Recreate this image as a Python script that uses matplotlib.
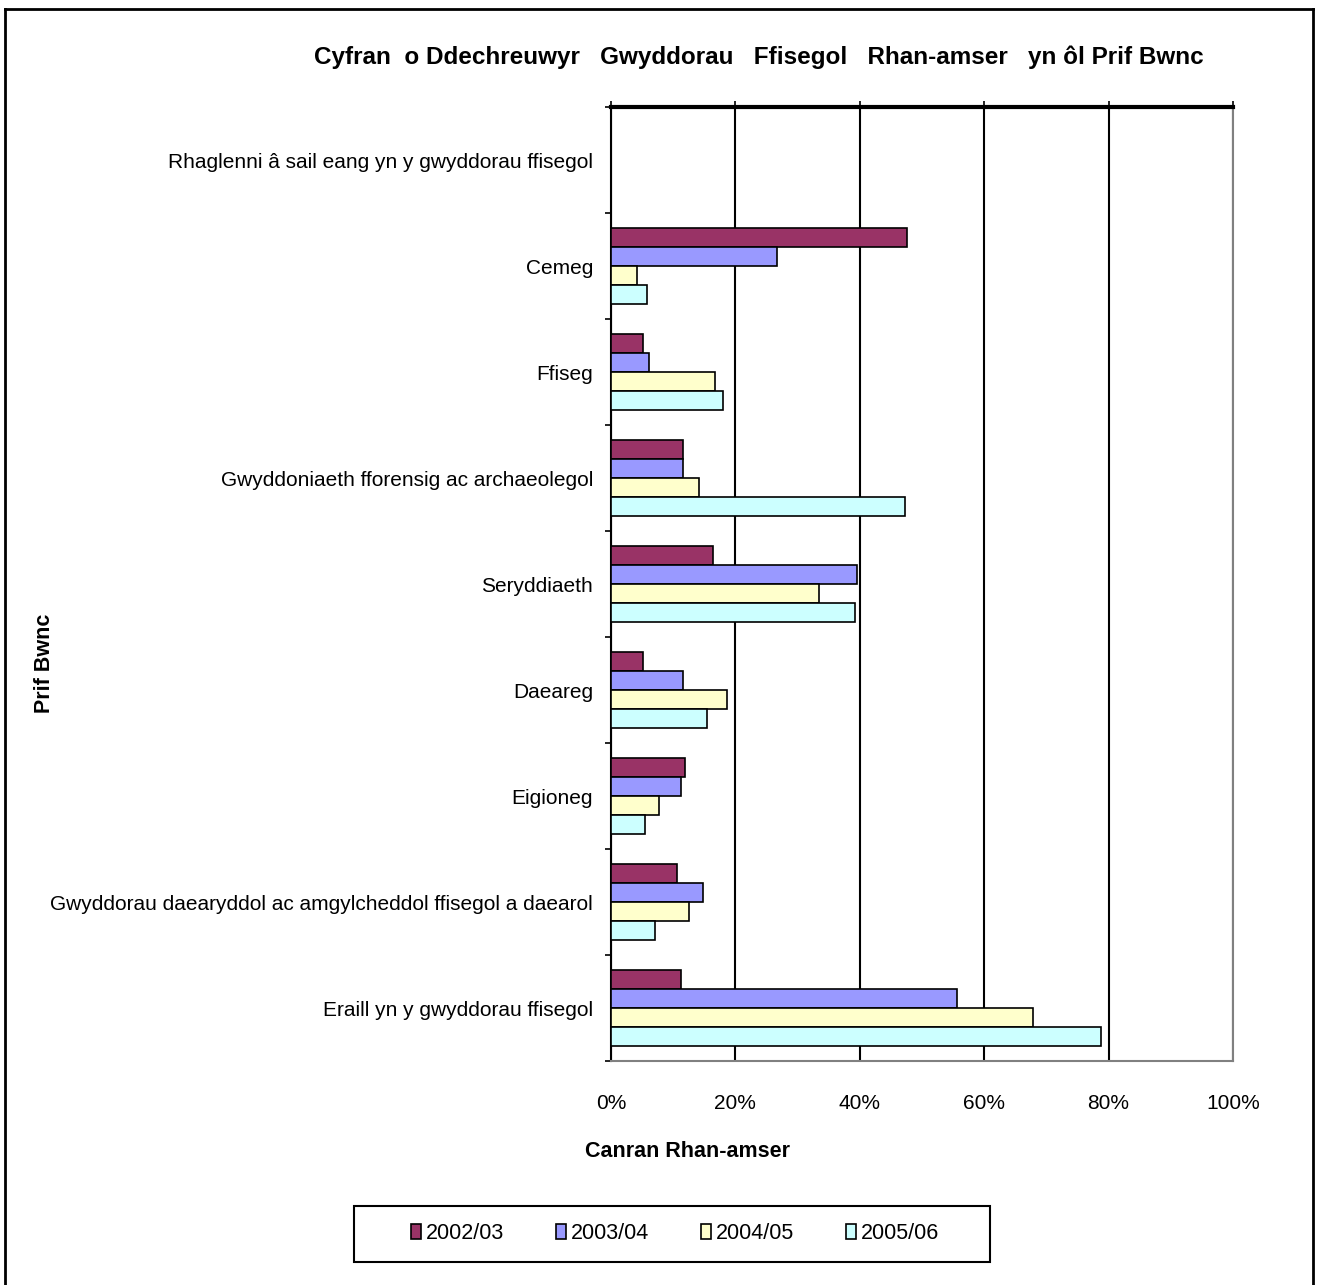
import numpy as np
import matplotlib.pyplot as plt
from matplotlib.lines import Line2D
from matplotlib.patches import Rectangle

plt.rcParams['font.family'] = ['Liberation Sans', 'DejaVu Sans']

# data (percent of part-time starters)
categories = ['Rhaglenni â sail eang yn y gwyddorau ffisegol', 'Cemeg', 'Ffiseg',
              'Gwyddoniaeth fforensig ac archaeolegol', 'Seryddiaeth', 'Daeareg',
              'Eigioneg', 'Gwyddorau daearyddol ac amgylcheddol ffisegol a daearol',
              'Eraill yn y gwyddorau ffisegol']
years = ['2002/03', '2003/04', '2004/05', '2005/06']
v_0203 = [0, 47.6, 5.1, 11.6, 16.4, 5.1, 11.9, 10.6, 11.3]
v_0304 = [0, 26.7, 6.1, 11.6, 39.5, 11.6, 11.3, 14.8, 55.6]
v_0405 = [0, 4.2, 16.7, 14.1, 33.4, 18.6, 7.7, 12.5, 67.8]
v_0506 = [0, 5.8, 18.0, 47.3, 39.2, 15.4, 5.5, 7.1, 78.8]
colors = ['#993366', '#9999FF', '#FFFFCC', '#CCFFFF']

fig = plt.figure(figsize=(13.18, 12.85), dpi=100)
ax = fig.add_axes([0.4636, 0.1743, 0.4719, 0.7424])

y = np.arange(len(categories))
h = 0.18
series = [v_0203, v_0304, v_0405, v_0506]
for i, (vals, lab, c) in enumerate(zip(series, years, colors)):
    ax.barh(y + (i - 1.5) * h, vals, height=h, color=c, edgecolor='black',
            linewidth=1.2, label=lab, zorder=3)

ax.set_xlim(0, 100)
ax.set_ylim(len(categories) - 0.5, -0.5)
ax.set_xticks(np.arange(0, 101, 20))
ax.set_xticklabels([f'{t}%' for t in range(0, 101, 20)], fontsize=15)
ax.tick_params(axis='x', top=True, bottom=False, labeltop=False, labelbottom=True,
               direction='out', length=4, width=1.2, pad=20)
ax.set_yticks(y)
ax.set_yticklabels(categories, fontsize=15)
ax.set_yticks(np.arange(-0.5, len(categories), 1), minor=True)
ax.tick_params(axis='y', which='major', length=0, pad=13)
ax.tick_params(axis='y', which='minor', length=4, width=1.2, direction='out')

ax.grid(axis='x', color='black', linewidth=1.5, zorder=1)
ax.spines['top'].set_linewidth(3)
ax.spines['left'].set_linewidth(1.5)
ax.spines['right'].set_color('#808080')
ax.spines['bottom'].set_color('#808080')
ax.spines['right'].set_linewidth(1.5)
ax.spines['bottom'].set_linewidth(1.5)

fig.text(0.5755, 0.9556, 'Cyfran  o Ddechreuwyr   Gwyddorau   Ffisegol   Rhan-amser   yn ôl Prif Bwnc',
         ha='center', va='center', fontsize=17.5, fontweight='bold')
fig.text(0.034, 0.484, 'Prif Bwnc', rotation=90, ha='center', va='center',
         fontsize=15.5, fontweight='bold')
fig.text(0.522, 0.104, 'Canran Rhan-amser', ha='center', va='center',
         fontsize=15.5, fontweight='bold')

leg = fig.legend(loc='center', bbox_to_anchor=(0.512, 0.0397), ncol=4, fontsize=15.5,
                 frameon=False, handlelength=0.5, handleheight=0.7,
                 handletextpad=0.2, columnspacing=2.4, borderaxespad=0)
fig.add_artist(Rectangle((354 / 1318, 1 - 1262 / 1285), 636 / 1318, 56 / 1285,
                         transform=fig.transFigure, fill=False, edgecolor='black', lw=1.5))

# outer frame
fig.add_artist(Line2D([0.0035, 0.0035], [0.0, 0.993], color='black', lw=2))
fig.add_artist(Line2D([0.0035, 0.9962], [0.993, 0.993], color='black', lw=2))
fig.add_artist(Line2D([0.9962, 0.9962], [0.0, 0.993], color='black', lw=2))

plt.savefig('out.png', dpi=100)
